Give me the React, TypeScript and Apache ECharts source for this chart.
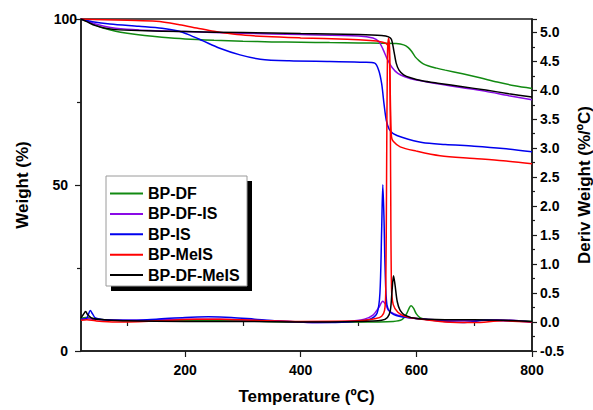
import React, { useEffect, useRef } from "react";
import * as echarts from "echarts";

// ---------- data ----------
const seriesNames = ["BP-DF", "BP-DF-IS", "BP-IS", "BP-MeIS", "BP-DF-MeIS"];
const seriesColors = ["#128a12", "#8a0ae6", "#0000ee", "#ff0000", "#000000"];

// TGA: weight (%) vs temperature (ºC)
const dfTgaT = [20, 30, 45, 60, 80, 100, 130, 160, 200, 250, 300, 350, 400, 450, 500, 540, 565, 578, 586, 592, 598, 605, 612, 620, 635, 650, 680, 710, 740, 770, 800];
const dfTgaW = [100, 99.4, 98.2, 97.2, 96.3, 95.7, 95.0, 94.5, 94.0, 93.6, 93.3, 93.1, 93.0, 92.9, 92.8, 92.7, 92.6, 92.2, 91.4, 90.2, 88.6, 87.4, 86.5, 85.9, 85.2, 84.6, 83.5, 82.3, 81.0, 79.9, 79.1];

const dfisTgaT = [20, 30, 45, 60, 80, 120, 200, 300, 400, 500, 525, 535, 542, 550, 558, 568, 580, 600, 640, 680, 720, 760, 800];
const dfisTgaW = [100, 99.4, 98.5, 97.8, 97.2, 96.7, 96.2, 95.7, 95.3, 94.9, 94.3, 93.2, 91.0, 87.8, 85.4, 83.6, 82.6, 81.6, 80.4, 79.3, 78.2, 76.9, 75.7];

const isTgaT = [20, 40, 70, 120, 160, 190, 210, 230, 260, 295, 330, 380, 450, 510, 528, 535, 540, 544, 548, 553, 560, 575, 610, 650, 700, 750, 800];
const isTgaW = [100, 99.2, 98.5, 97.8, 97.2, 96.3, 95.0, 93.5, 91.2, 89.2, 87.9, 87.4, 87.2, 87.0, 86.7, 84.5, 80.5, 74.5, 69.5, 66.8, 65.5, 64.4, 62.8, 62.2, 61.7, 61.0, 60.0];

const meisTgaT = [20, 60, 100, 150, 190, 220, 250, 290, 340, 400, 480, 520, 540, 548, 552, 554, 555.5, 557, 560, 572, 600, 641, 700, 750, 800];
const meisTgaW = [100, 99.8, 99.6, 99.3, 98.3, 97.3, 96.3, 95.3, 94.7, 94.3, 93.9, 93.5, 93.1, 92.6, 91.5, 85, 72, 64.5, 63.2, 61.5, 60.2, 58.8, 58.0, 57.3, 56.4];

const dfmeisTgaT = [20, 30, 45, 60, 80, 120, 200, 300, 400, 500, 540, 552, 557, 561, 565, 570, 578, 590, 610, 640, 680, 720, 760, 800];
const dfmeisTgaW = [100, 99.2, 98.0, 97.3, 96.8, 96.5, 96.2, 95.9, 95.6, 95.3, 95.0, 94.6, 93.8, 90.5, 86.8, 84.6, 83.2, 82.3, 81.4, 80.6, 79.6, 78.6, 77.5, 76.5];

// DTG: derivative weight (%/ºC) vs temperature (ºC)
const dfDtgT = [20, 28, 35, 50, 80, 120, 200, 300, 400, 500, 560, 575, 583, 588, 591, 595, 600, 607, 620, 650, 700, 750, 800];
const dfDtgD = [0.06, 0.08, 0.07, 0.05, 0.03, 0.02, 0.03, 0.02, 0.0, 0.0, 0.01, 0.04, 0.14, 0.25, 0.28, 0.24, 0.14, 0.07, 0.04, 0.03, 0.03, 0.03, 0.01];

const dfisDtgT = [20, 30, 40, 60, 100, 200, 260, 330, 430, 480, 510, 525, 535, 542, 547, 552, 560, 575, 600, 680, 740, 800];
const dfisDtgD = [0.04, 0.06, 0.05, 0.04, 0.03, 0.05, 0.05, 0.03, -0.01, 0.01, 0.05, 0.12, 0.25, 0.36, 0.3, 0.2, 0.15, 0.1, 0.06, 0.02, 0.04, 0.0];

const isDtgT = [20, 30, 36, 40, 45, 60, 100, 150, 200, 240, 280, 320, 360, 430, 480, 520, 532, 537, 540, 542, 544, 546, 549, 555, 570, 600, 680, 720, 800];
const isDtgD = [0.05, 0.07, 0.2, 0.14, 0.07, 0.04, 0.03, 0.05, 0.08, 0.09, 0.08, 0.05, 0.02, -0.01, 0.0, 0.05, 0.15, 0.5, 1.6, 2.37, 1.8, 0.9, 0.3, 0.17, 0.1, 0.06, -0.01, 0.03, 0.0];

const meisDtgT = [20, 30, 45, 80, 150, 220, 260, 320, 400, 500, 530, 540, 545, 547, 548.5, 550, 552, 554, 555.5, 557, 560, 568, 580, 600, 650, 700, 750, 800];
const meisDtgD = [0.03, 0.04, 0.02, 0.0, 0.02, 0.05, 0.05, 0.03, 0.01, 0.02, 0.06, 0.1, 0.2, 0.5, 2.5, 4.6, 4.9, 4.6, 2.5, 0.6, 0.3, 0.17, 0.1, 0.06, 0.0, -0.01, 0.02, 0.0];

const dfmeisDtgT = [20, 24, 28, 32, 40, 60, 100, 200, 300, 400, 500, 540, 550, 555, 558, 560.5, 563, 567, 572, 580, 600, 650, 700, 750, 800];
const dfmeisDtgD = [0.07, 0.13, 0.18, 0.12, 0.06, 0.04, 0.02, 0.01, 0.01, 0.0, 0.01, 0.03, 0.08, 0.2, 0.55, 0.8, 0.65, 0.35, 0.2, 0.12, 0.06, 0.04, 0.04, 0.03, 0.01];

// axis ticks
const xLabelTicks = [200, 400, 600, 800];
const xMinorTicks = [100, 300, 500, 700];

const tgaT = [dfTgaT, dfisTgaT, isTgaT, meisTgaT, dfmeisTgaT];
const tgaW = [dfTgaW, dfisTgaW, isTgaW, meisTgaW, dfmeisTgaW];
const dtgT = [dfDtgT, dfisDtgT, isDtgT, meisDtgT, dfmeisDtgT];
const dtgD = [dfDtgD, dfisDtgD, isDtgD, meisDtgD, dfmeisDtgD];

const zip = (a: number[], b: number[]) => a.map((v, i) => [v, b[i]]);

const FONT = '"Liberation Sans", Arial, Helvetica, sans-serif';
const AXIS_COLOR = "#1a1a1a";

export default function App() {
  const ref = useRef<HTMLDivElement>(null);

  useEffect(() => {
    if (!ref.current) return;
    const chart = echarts.init(ref.current, undefined, { renderer: "svg" });

    const series: any[] = [];
    seriesNames.forEach((name, i) => {
      series.push({
        name,
        type: "line",
        xAxisIndex: 0,
        yAxisIndex: 0,
        data: zip(tgaT[i], tgaW[i]),
        symbol: "none",
        smooth: 0.3,
        lineStyle: { color: seriesColors[i], width: 1.5 },
        itemStyle: { color: seriesColors[i] },
        z: 2 + i,
      });
      series.push({
        name,
        type: "line",
        xAxisIndex: 0,
        yAxisIndex: 1,
        data: zip(dtgT[i], dtgD[i]),
        symbol: "none",
        smooth: 0.3,
        lineStyle: { color: seriesColors[i], width: 1.5 },
        itemStyle: { color: seriesColors[i] },
        z: 2 + i,
      });
    });

    const labelStyle = { fontFamily: FONT, fontWeight: "bold" as const, fontSize: 14, color: "#000" };
    const nameStyle = { fontFamily: FONT, fontWeight: "bold" as const, fontSize: 17, color: "#000" };

    chart.setOption({
      animation: false,
      backgroundColor: "#ffffff",
      grid: {
        left: 81,
        right: 61,
        top: 19,
        bottom: 59,
        show: true,
        borderColor: AXIS_COLOR,
        borderWidth: 1.5,
        backgroundColor: "transparent",
        containLabel: false,
        outerBoundsMode: "none",
      },
      xAxis: [
        {
          type: "value",
          min: 20,
          max: 800,
          position: "bottom",
          name: "Temperature (ºC)",
          nameLocation: "middle",
          nameGap: 37,
          nameTextStyle: nameStyle,
          axisLine: { show: true, lineStyle: { color: AXIS_COLOR, width: 1.5 } },
          axisTick: { show: true, customValues: xLabelTicks, length: 6, lineStyle: { color: AXIS_COLOR, width: 1.2 } },
          axisLabel: { show: true, customValues: xLabelTicks, margin: 12, ...labelStyle },
          splitLine: { show: false },
        },
        {
          type: "value",
          min: 20,
          max: 800,
          position: "bottom",
          axisLine: { show: false },
          axisTick: { show: true, customValues: xMinorTicks, length: 4, lineStyle: { color: AXIS_COLOR, width: 1.2 } },
          axisLabel: { show: false },
          splitLine: { show: false },
        },
      ],
      yAxis: [
        {
          type: "value",
          min: 0,
          max: 100,
          interval: 50,
          position: "left",
          name: "Weight (%)",
          nameLocation: "middle",
          nameGap: 50,
          nameTextStyle: nameStyle,
          axisLine: { show: true, lineStyle: { color: AXIS_COLOR, width: 1.5 } },
          axisTick: { show: true, length: 6, lineStyle: { color: AXIS_COLOR, width: 1.2 } },
          minorTick: { show: true, splitNumber: 2, length: 4, lineStyle: { color: AXIS_COLOR, width: 1.2 } },
          axisLabel: {
            margin: 13,
            ...labelStyle,
            formatter: (v: number) => (v === 100 ? "" : String(v)),
          },
          splitLine: { show: false },
          minorSplitLine: { show: false },
        },
        {
          type: "value",
          min: -0.5,
          max: 5.23,
          interval: 0.5,
          position: "right",
          name: "Deriv Weight (%/ºC)",
          nameLocation: "middle",
          nameGap: 44,
          nameTextStyle: nameStyle,
          axisLine: { show: true, lineStyle: { color: AXIS_COLOR, width: 1.5 } },
          axisTick: { show: true, length: 5, lineStyle: { color: AXIS_COLOR, width: 1.2 } },
          minorTick: { show: true, splitNumber: 2, length: 3, lineStyle: { color: AXIS_COLOR, width: 1.2 } },
          axisLabel: {
            margin: 8,
            showMaxLabel: false,
            ...labelStyle,
            formatter: (v: number) => v.toFixed(1),
          },
          splitLine: { show: false },
          minorSplitLine: { show: false },
        },
        {
          type: "value",
          min: 0,
          max: 100,
          interval: 50,
          position: "left",
          axisLine: { show: false },
          axisTick: { show: false },
          axisLabel: {
            margin: 4,
            ...labelStyle,
            formatter: (v: number) => (v === 100 ? "100" : ""),
          },
          splitLine: { show: false },
        },
      ],
      legend: {
        data: seriesNames.map((name) => ({ name, icon: "rect" })),
        orient: "vertical",
        left: 110,
        top: 185.5,
        itemWidth: 33,
        itemHeight: 2,
        itemGap: 4.4,
        padding: 0,
        textStyle: { fontFamily: FONT, fontWeight: "bold", fontSize: 16, color: "#000" },
        selectedMode: false,
        z: 10,
      },
      graphic: [
        {
          type: "rect",
          z: 1,
          shape: { x: 111, y: 181, width: 141, height: 110 },
          style: { fill: "#000" },
          silent: true,
        },
        {
          type: "rect",
          z: 2,
          shape: { x: 106, y: 176, width: 141, height: 110 },
          style: { fill: "#fff", stroke: "#9a9a9a", lineWidth: 1 },
          silent: true,
        },
      ],
      series,
    });

    return () => chart.dispose();
  }, []);

  return <div ref={ref} style={{ width: 593, height: 410, position: "absolute", left: 0, top: 0 }} />;
}
